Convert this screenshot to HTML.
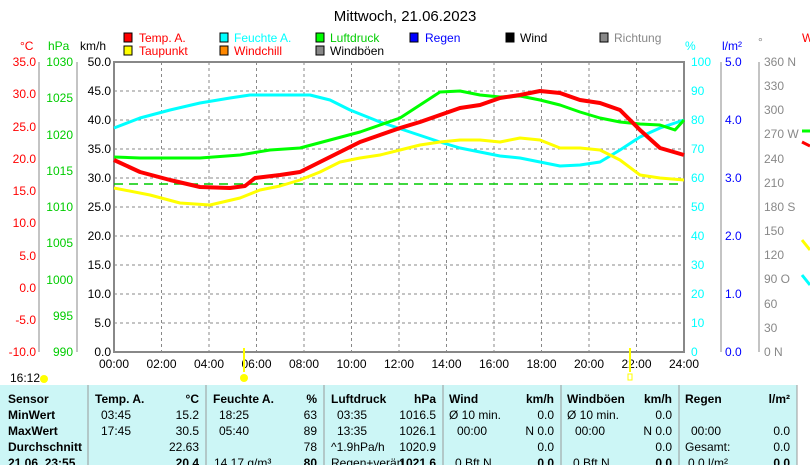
<!DOCTYPE html>
<html><head><meta charset="utf-8"><style>
body{margin:0;background:#fff;width:810px;height:465px;overflow:hidden;font-family:"Liberation Sans",sans-serif}
svg{display:block}
text{font-family:"Liberation Sans",sans-serif}
</style></head><body>
<svg width="810" height="465" viewBox="0 0 810 465" font-size="12">
<text x="405" y="21" font-size="15" text-anchor="middle" fill="#000">Mittwoch, 21.06.2023</text>
<!-- legend -->
<g font-size="12">
<rect x="124" y="33" width="8" height="9" fill="#f00" stroke="#000"/><text x="139" y="42" fill="#f00">Temp. A.</text>
<rect x="124" y="46" width="8" height="9" fill="#ff0" stroke="#000"/><text x="139" y="55" fill="#f00">Taupunkt</text>
<rect x="220" y="33" width="8" height="9" fill="#0ff" stroke="#000"/><text x="234" y="42" fill="#0ff">Feuchte A.</text>
<rect x="220" y="46" width="8" height="9" fill="#f80" stroke="#000"/><text x="234" y="55" fill="#f00">Windchill</text>
<rect x="316" y="33" width="8" height="9" fill="#0f0" stroke="#000"/><text x="330" y="42" fill="#0c0">Luftdruck</text>
<rect x="316" y="46" width="8" height="9" fill="#888" stroke="#000"/><text x="330" y="55" fill="#000">Windböen</text>
<rect x="410" y="33" width="8" height="9" fill="#00f" stroke="#000"/><text x="425" y="42" fill="#00f">Regen</text>
<rect x="506" y="33" width="8" height="9" fill="#000" stroke="#000"/><text x="520" y="42" fill="#000">Wind</text>
<rect x="600" y="33" width="8" height="9" fill="#888" stroke="#000"/><text x="614" y="42" fill="#888">Richtung</text>
</g>
<text x="20" y="50" fill="#f00">°C</text><text x="48" y="50" fill="#0c0">hPa</text><text x="80" y="50">km/h</text>
<text x="685" y="50" fill="#0ff">%</text><text x="722" y="50" fill="#00f">l/m²</text><text x="758" y="46" fill="#888">°</text>
<text x="802" y="42" fill="#f00">W</text>
<!-- grid -->
<g stroke="#888" stroke-dasharray="3,3" stroke-width="1">
<line x1="161.5" y1="62" x2="161.5" y2="352"/><line x1="209" y1="62" x2="209" y2="352"/><line x1="256.5" y1="62" x2="256.5" y2="352"/><line x1="304" y1="62" x2="304" y2="352"/><line x1="351.5" y1="62" x2="351.5" y2="352"/><line x1="399" y1="62" x2="399" y2="352"/><line x1="446.5" y1="62" x2="446.5" y2="352"/><line x1="494" y1="62" x2="494" y2="352"/><line x1="541.5" y1="62" x2="541.5" y2="352"/><line x1="589" y1="62" x2="589" y2="352"/><line x1="636.5" y1="62" x2="636.5" y2="352"/>
<line x1="114" y1="91" x2="684" y2="91"/><line x1="114" y1="120" x2="684" y2="120"/><line x1="114" y1="149" x2="684" y2="149"/><line x1="114" y1="178" x2="684" y2="178"/><line x1="114" y1="207" x2="684" y2="207"/><line x1="114" y1="236" x2="684" y2="236"/><line x1="114" y1="265" x2="684" y2="265"/><line x1="114" y1="294" x2="684" y2="294"/><line x1="114" y1="323" x2="684" y2="323"/>
</g>
<rect x="114" y="62" width="570" height="290" fill="none" stroke="#888" stroke-width="2"/>
<line x1="114" y1="184" x2="684" y2="184" stroke="#0c0" stroke-dasharray="9,6" stroke-width="1.5"/>
<!-- axis lines -->
<g stroke="#888"><line x1="39" y1="62" x2="39" y2="352"/><line x1="77" y1="62" x2="77" y2="352"/><line x1="721" y1="62" x2="721" y2="352"/><line x1="759" y1="62" x2="759" y2="352"/></g>
<!-- left labels -->
<g text-anchor="end">
<g fill="#f00"><text x="36" y="66">35.0</text><text x="36" y="98">30.0</text><text x="36" y="131">25.0</text><text x="36" y="163">20.0</text><text x="36" y="195">15.0</text><text x="36" y="227">10.0</text><text x="36" y="260">5.0</text><text x="36" y="292">0.0</text><text x="36" y="324">-5.0</text><text x="36" y="356">-10.0</text></g>
<g fill="#0c0"><text x="73" y="66">1030</text><text x="73" y="102">1025</text><text x="73" y="139">1020</text><text x="73" y="175">1015</text><text x="73" y="211">1010</text><text x="73" y="247">1005</text><text x="73" y="284">1000</text><text x="73" y="320">995</text><text x="73" y="356">990</text></g>
<g fill="#000"><text x="111" y="66">50.0</text><text x="111" y="95">45.0</text><text x="111" y="124">40.0</text><text x="111" y="153">35.0</text><text x="111" y="182">30.0</text><text x="111" y="211">25.0</text><text x="111" y="240">20.0</text><text x="111" y="269">15.0</text><text x="111" y="298">10.0</text><text x="111" y="327">5.0</text><text x="111" y="356">0.0</text></g>
</g>
<!-- right labels -->
<g>
<g fill="#0ff"><text x="691" y="66">100</text><text x="691" y="95">90</text><text x="691" y="124">80</text><text x="691" y="153">70</text><text x="691" y="182">60</text><text x="691" y="211">50</text><text x="691" y="240">40</text><text x="691" y="269">30</text><text x="691" y="298">20</text><text x="691" y="327">10</text><text x="691" y="356">0</text></g>
<g fill="#00f"><text x="725" y="66">5.0</text><text x="725" y="124">4.0</text><text x="725" y="182">3.0</text><text x="725" y="240">2.0</text><text x="725" y="298">1.0</text><text x="725" y="356">0.0</text></g>
<g fill="#888"><text x="764" y="66">360 N</text><text x="764" y="90">330</text><text x="764" y="114">300</text><text x="764" y="138">270 W</text><text x="764" y="163">240</text><text x="764" y="187">210</text><text x="764" y="211">180 S</text><text x="764" y="235">150</text><text x="764" y="259">120</text><text x="764" y="283">90  O</text><text x="764" y="308">60</text><text x="764" y="332">30</text><text x="764" y="356">0   N</text></g>
</g>
<!-- x labels -->
<g text-anchor="middle"><text x="114" y="368">00:00</text><text x="161.5" y="368">02:00</text><text x="209" y="368">04:00</text><text x="256.5" y="368">06:00</text><text x="304" y="368">08:00</text><text x="351.5" y="368">10:00</text><text x="399" y="368">12:00</text><text x="446.5" y="368">14:00</text><text x="494" y="368">16:00</text><text x="541.5" y="368">18:00</text><text x="589" y="368">20:00</text><text x="636.5" y="368">22:00</text><text x="684" y="368">24:00</text></g>
<!-- series -->
<g fill="none" stroke-width="3" stroke-linejoin="round">
<polyline stroke="#0ff" points="114,128 140,118 170,110 200,103 230,98 250,95 280,95 310,95 330,100 350,110 380,122 410,132 440,142 460,148 480,152 500,156 520,158 540,162 560,166 580,165 600,162 620,150 640,137 660,128 684,120"/>
<polyline stroke="#0f0" points="114,157 140,158 200,158 240,155 270,150 300,148 330,140 360,132 380,125 400,118 420,105 440,92 460,91 480,95 500,97 520,96 540,100 560,105 580,112 600,118 620,122 640,124 660,125 675,130 684,120"/>
<polyline stroke="#ff0" points="114,188 150,195 180,203 210,205 240,198 260,190 280,186 300,180 320,172 340,162 360,158 380,155 400,150 420,145 440,142 460,140 480,140 500,142 520,138 540,140 560,148 580,148 600,150 620,160 640,175 660,178 684,180"/>
<polyline stroke="#f00" stroke-width="4" points="114,160 140,172 170,180 200,187 230,188 245,186 255,178 280,175 300,172 320,162 340,152 360,142 380,135 400,128 420,122 440,115 460,108 480,105 500,98 520,95 540,91 560,93 580,100 600,103 620,110 640,130 660,148 684,155"/>
</g>
<line x1="802" y1="142" x2="810" y2="146" stroke="#f00" stroke-width="3"/>
<line x1="802" y1="131" x2="810" y2="131" stroke="#0f0" stroke-width="3"/>
<line x1="802" y1="240" x2="810" y2="250" stroke="#ff0" stroke-width="3"/>
<line x1="802" y1="275" x2="810" y2="285" stroke="#0ff" stroke-width="3"/>
<line x1="244" y1="348" x2="244" y2="372" stroke="#ff0" stroke-width="2"/>
<line x1="630" y1="348" x2="630" y2="372" stroke="#ff0" stroke-width="2"/>
<text x="10" y="382">16:12</text><circle cx="44" cy="379" r="4" fill="#ff0"/>
<circle cx="244" cy="378" r="4" fill="#ff0"/><rect x="628" y="374" width="4" height="6" fill="none" stroke="#ff0"/>
<!-- table -->
<rect x="0" y="385" width="797" height="80" fill="#ccf6f6"/>
<g stroke="#999"><line x1="88" y1="385" x2="88" y2="465"/><line x1="206" y1="385" x2="206" y2="465"/><line x1="324" y1="385" x2="324" y2="465"/><line x1="443" y1="385" x2="443" y2="465"/><line x1="561" y1="385" x2="561" y2="465"/><line x1="679" y1="385" x2="679" y2="465"/><line x1="797" y1="385" x2="797" y2="465"/></g>
<g font-size="12">
<g font-weight="bold"><text x="8" y="403">Sensor</text><text x="8" y="419">MinWert</text><text x="8" y="435">MaxWert</text><text x="8" y="451">Durchschnitt</text><text x="8" y="467">21.06. 23:55</text>
<text x="95" y="403">Temp. A.</text><text x="213" y="403">Feuchte A.</text><text x="331" y="403">Luftdruck</text><text x="449" y="403">Wind</text><text x="567" y="403">Windböen</text><text x="685" y="403">Regen</text></g>
<g text-anchor="end" font-weight="bold"><text x="199" y="403">°C</text><text x="317" y="403">%</text><text x="436" y="403">hPa</text><text x="554" y="403">km/h</text><text x="672" y="403">km/h</text><text x="790" y="403">l/m²</text>
<text x="199" y="467">20.4</text><text x="317" y="467">80</text><text x="436" y="467">1021.6</text><text x="554" y="467">0.0</text><text x="672" y="467">0.0</text><text x="790" y="467">0.0</text></g>
<text x="101" y="419">03:45</text><text x="101" y="435">17:45</text><text x="219" y="419">18:25</text><text x="219" y="435">05:40</text><text x="337" y="419">03:35</text><text x="337" y="435">13:35</text><text x="331" y="451">^1.9hPa/h</text>
<text x="449" y="419">Ø 10 min.</text><text x="457" y="435">00:00</text><text x="567" y="419">Ø 10 min.</text><text x="575" y="435">00:00</text><text x="691" y="435">00:00</text><text x="685" y="451">Gesamt:</text>
<text x="214" y="467">14.17 g/m³</text><text x="331" y="467">Regen+verän</text><text x="455" y="467">0 Bft N</text><text x="573" y="467">0 Bft N</text><text x="688" y="467">0.0 l/m²</text>
<g text-anchor="end"><text x="199" y="419">15.2</text><text x="199" y="435">30.5</text><text x="199" y="451">22.63</text><text x="317" y="419">63</text><text x="317" y="435">89</text><text x="317" y="451">78</text><text x="436" y="419">1016.5</text><text x="436" y="435">1026.1</text><text x="436" y="451">1020.9</text>
<text x="554" y="419">0.0</text><text x="554" y="435">N 0.0</text><text x="554" y="451">0.0</text><text x="672" y="419">0.0</text><text x="672" y="435">N 0.0</text><text x="672" y="451">0.0</text><text x="790" y="435">0.0</text><text x="790" y="451">0.0</text></g>
</g>
</svg>
</body></html>
